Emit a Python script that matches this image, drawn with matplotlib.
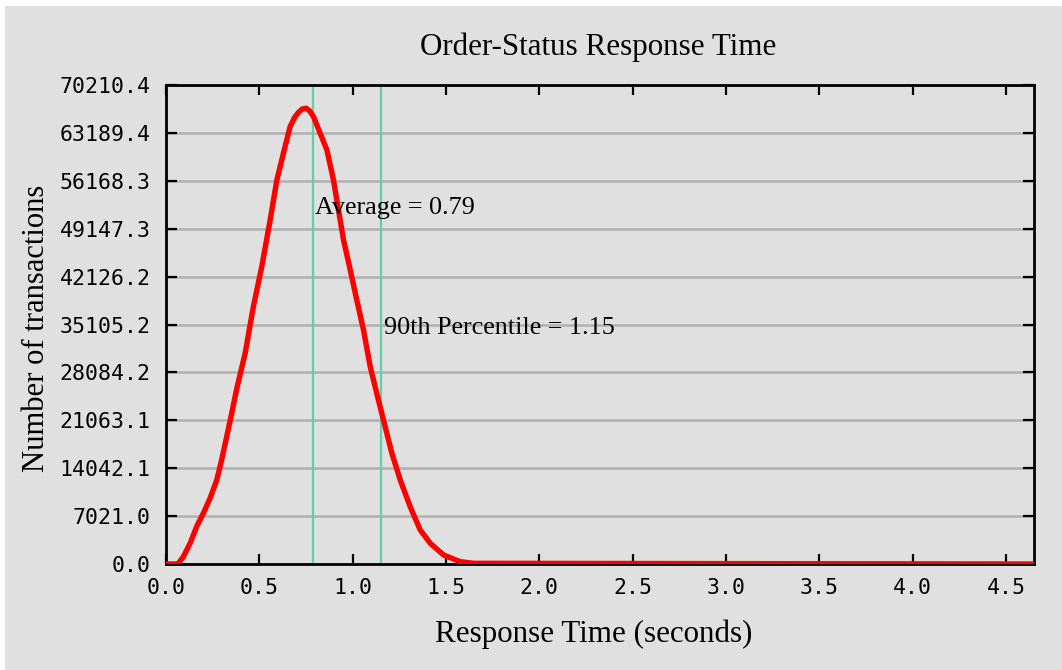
import matplotlib
matplotlib.use("Agg")
import matplotlib.pyplot as plt
from matplotlib.patches import Rectangle

# ---- data ----
resp_time = [0.0, 0.064, 0.093, 0.129, 0.164, 0.2, 0.236, 0.272, 0.298, 0.325,
             0.352, 0.379, 0.424, 0.468, 0.513, 0.558, 0.594, 0.629, 0.665, 0.69,
             0.71, 0.73, 0.751, 0.77, 0.79, 0.826, 0.862, 0.897, 0.924, 0.951,
             0.987, 1.022, 1.058, 1.094, 1.138, 1.174, 1.21, 1.255, 1.308, 1.362,
             1.416, 1.487, 1.576, 1.648, 4.65]
transactions = [0, 0, 1070, 3030, 5470, 7430, 9630, 12310, 15250, 18660,
                22090, 25700, 30890, 37720, 43580, 50430, 56300, 60210, 64110, 65500,
                66200, 66700, 66800, 66400, 65580, 63140, 60690, 56300, 51900, 47500,
                43100, 38700, 34300, 28920, 24040, 20130, 16230, 12310, 8400, 4980,
                3030, 1320, 340, 100, 0]
average = 0.79
percentile90 = 1.15
y_max = 70210.4
y_ticks = [i * 7021.04 for i in range(11)]
y_tick_labels = ["0.0", "7021.0", "14042.1", "21063.1", "28084.2", "35105.2",
                 "42126.2", "49147.3", "56168.3", "63189.4", "70210.4"]
x_ticks = [0.0, 0.5, 1.0, 1.5, 2.0, 2.5, 3.0, 3.5, 4.0, 4.5]
x_tick_labels = ["0.0", "0.5", "1.0", "1.5", "2.0", "2.5", "3.0", "3.5", "4.0", "4.5"]
x_max = 4.65

BG = "#e0e0e0"
serif = "Liberation Serif"
mono = "DejaVu Sans Mono"

fig = plt.figure(figsize=(10.62, 6.70), dpi=100)
fig.patch.set_facecolor("white")
fig.patches.append(Rectangle((5 / 1062, 0), 1, 1 - 6 / 670, transform=fig.transFigure,
                             facecolor=BG, edgecolor="none", zorder=-10))

ax = fig.add_axes([166 / 1062, 1 - 564 / 670, (1034 - 166) / 1062, (564 - 85) / 670])
ax.set_facecolor(BG)

ax.set_xlim(0, x_max)
ax.set_ylim(0, y_max)
ax.set_yticks(y_ticks)
ax.set_yticklabels(y_tick_labels)
ax.set_xticks(x_ticks)
ax.set_xticklabels(x_tick_labels)

for t in ax.get_yticklabels() + ax.get_xticklabels():
    t.set_fontfamily(mono)
    t.set_fontsize(15.5)

ax.tick_params(axis="both", direction="in", top=True, right=True, width=1.6, colors="black")
ax.tick_params(axis="y", length=8, pad=11)
ax.tick_params(axis="x", length=7, pad=10)

ax.yaxis.grid(True, color="#b0b0b0", linewidth=1.8)
ax.xaxis.grid(False)
ax.set_axisbelow(True)
for s in ax.spines.values():
    s.set_linewidth(2.0)
    s.set_color("black")

ax.axvline(average, color="#60d0a4", linewidth=1.6, zorder=2)
ax.axvline(percentile90, color="#60d0a4", linewidth=1.6, zorder=2)

ax.plot(resp_time, transactions, color="#ff0000", linewidth=3.9, zorder=3,
        solid_joinstyle="round", solid_capstyle="butt", clip_on=True)

ax.text(average + 0.01, 52190, "Average = %.2f" % average, fontfamily=serif, fontsize=18.8,
        va="center", ha="left", zorder=4)
ax.text(percentile90 + 0.02, 34600, "90th Percentile = %.2f" % percentile90, fontfamily=serif,
        fontsize=18.8, va="center", ha="left", zorder=4)

fig.text(598 / 1062, 1 - 47 / 670, "Order-Status Response Time", fontfamily=serif,
         fontsize=22.3, ha="center", va="center")
fig.text(594 / 1062, 1 - 634 / 670, "Response Time (seconds)", fontfamily=serif,
         fontsize=22.3, ha="center", va="center")
fig.text(37 / 1062, 1 - 328 / 670, "Number of transactions", fontfamily=serif,
         fontsize=22.1, ha="center", va="center", rotation=90)

fig.savefig("out.png", dpi=100, facecolor=fig.get_facecolor())
